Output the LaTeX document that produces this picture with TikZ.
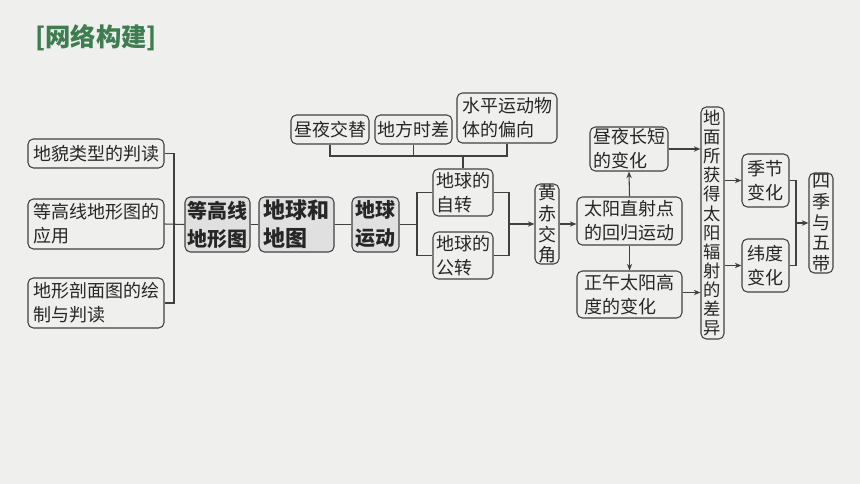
\documentclass[tikz,border=0pt]{standalone}
\usepackage{fontspec}
\newfontfamily\cjk{Noto Sans CJK SC}
\usetikzlibrary{arrows.meta}
\definecolor{paper}{HTML}{EFEFED}
\definecolor{linec}{HTML}{404040}
\definecolor{titlegreen}{HTML}{3D7D50}
\tikzset{
  box/.style={draw=linec, line width=0.8pt, rounded corners=4pt, inner sep=0pt,
    align=left, text=black!85, font=\cjk\fontsize{13.5}{18}\selectfont},
  keybox/.style={box, fill=black!12, font=\cjk\bfseries\fontsize{15}{21}\selectfont},
  vbox/.style={box, align=center, font=\cjk\fontsize{13.5}{15.4}\selectfont},
  link/.style={draw=linec, line width=0.8pt},
  arr/.style={link, -{Stealth[length=5pt,width=4pt]}}
}
\begin{document}
\begin{tikzpicture}[x=0.75pt, y=-0.75pt]
\fill[paper] (0,0) rectangle (860,484);
\useasboundingbox (0,0) rectangle (860,484);
\node[text=titlegreen, font=\cjk\bfseries\fontsize{19}{19}\selectfont] (title) at (96,37.5) {[网络构建]};
% left column
\node[box, minimum width=102pt, minimum height=21.75pt] (lmx) at (96,153.5) {地貌类型的判读};
\node[box, minimum width=102pt, minimum height=37.5pt] (ldg) at (96,224) {等高线地形图的\\应用};
\node[box, minimum width=102pt, minimum height=37.5pt] (lpm) at (96,303) {地形剖面图的绘\\制与判读};
% main chain
\node[keybox, minimum width=48.75pt, minimum height=41.25pt] (kdg) at (217.5,224.5) {等高线\\地形图};
\node[keybox, minimum width=56.25pt, minimum height=41.25pt, font=\cjk\bfseries\fontsize{16.5}{21}\selectfont] (kdq) at (296.5,224.5) {地球和\\地图};
\node[keybox, minimum width=35.25pt, minimum height=41.25pt] (kyd) at (375.5,224.5) {地球\\运动};
% top row
\node[box, minimum width=58.5pt, minimum height=21.75pt] (tzy) at (330,129.5) {昼夜交替};
\node[box, minimum width=57.75pt, minimum height=21.75pt] (tdf) at (413.5,129.5) {地方时差};
\node[box, minimum width=75pt, minimum height=37.5pt] (tsp) at (507,118) {水平运动物\\体的偏向};
% rotation and revolution
\node[box, minimum width=45pt, minimum height=35.25pt] (rzz) at (463,192.5) {地球的\\自转};
\node[box, minimum width=45pt, minimum height=35.25pt] (rgz) at (463,255.5) {地球的\\公转};
\node[vbox, minimum width=18pt, minimum height=60pt] (hcj) at (547,224) {黄\\赤\\交\\角};
\node[box, minimum width=78.75pt, minimum height=36pt] (tyz) at (629.5,221) {太阳直射点\\的回归运动};
\node[box, minimum width=58.5pt, minimum height=33pt] (zyc) at (629,149) {昼夜长短\\的变化};
\node[box, minimum width=78.75pt, minimum height=35.25pt] (zwg) at (629.5,294.5) {正午太阳高\\度的变化};
\node[vbox, minimum width=17.25pt, minimum height=174pt, font=\cjk\fontsize{13}{14.3}\selectfont] (dmfs) at (712.5,223) {地\\面\\所\\获\\得\\太\\阳\\辐\\射\\的\\差\\异};
\node[box, minimum width=35.25pt, minimum height=39.75pt] (jjbh) at (765.5,180.5) {季节\\变化};
\node[box, minimum width=35.25pt, minimum height=39.75pt] (wdbh) at (765.5,265.5) {纬度\\变化};
\node[vbox, minimum width=18pt, minimum height=75pt] (sjwd) at (821,223) {四\\季\\与\\五\\带};
% connectors
\coordinate (b1) at (174,224);
\draw[link] (lmx.east) -- (lmx.east -| b1) -- (lpm.east -| b1) -- (lpm.east);
\draw[link] (ldg.east) -- (kdg.west);
\draw[link] (kdg.east) -- (kdq.west);
\draw[link] (kdq.east) -- (kyd.west);
\coordinate (b2) at (417,224.5);
\draw[link] (kyd.east) -- (b2);
\draw[link] (rzz.west) -- (rzz.west -| b2) -- (rgz.west -| b2) -- (rgz.west);
\coordinate (b3) at (509,224);
\draw[link] (rzz.east) -- (rzz.east -| b3) -- (rgz.east -| b3) -- (rgz.east);
\draw[arr] (b3) -- (hcj.west);
\coordinate (tb) at (463,156);
\draw[link] (tzy.south) -- (tzy.south |- tb) -- (tsp.south |- tb) -- (tsp.south);
\draw[link] (tdf.south) -- (tdf.south |- tb);
\draw[link] (tb) -- (rzz.north);
\draw[arr] (hcj.east) -- (hcj.east -| tyz.west);
\draw[arr] (tyz.north) -- (zyc.south);
\draw[arr] (tyz.south) -- (zwg.north);
\draw[arr] (zyc.east) -- (zyc.east -| dmfs.west);
\draw[arr] ([yshift=1.5pt]zwg.east) -- ([yshift=1.5pt]zwg.east -| dmfs.west);
\draw[arr] (jjbh.west -| dmfs.east) -- (jjbh.west);
\draw[arr] (wdbh.west -| dmfs.east) -- (wdbh.west);
\coordinate (b4) at (796,223);
\draw[link] (jjbh.east) -- (jjbh.east -| b4) -- (wdbh.east -| b4) -- (wdbh.east);
\draw[arr] (b4) -- (sjwd.west);
\end{tikzpicture}
\end{document}
